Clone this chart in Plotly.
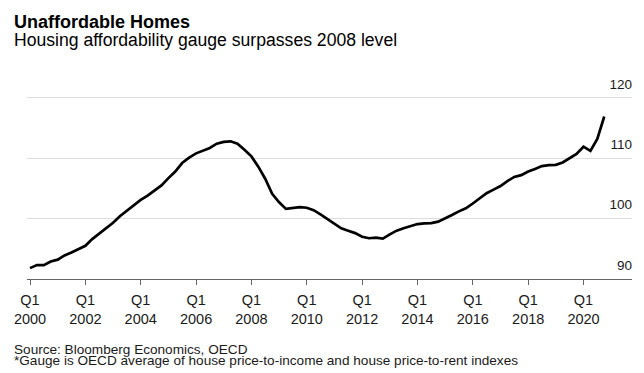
import plotly.graph_objects as go
import pandas as pd

# ---- data ----
quarters = pd.period_range("2000Q1", "2020Q4", freq="Q")
gauge = [
    91.8, 92.3, 92.3, 92.9, 93.2, 93.9, 94.4, 95.0,
    95.5, 96.6, 97.5, 98.4, 99.3, 100.4, 101.3, 102.2,
    103.1, 103.8, 104.6, 105.5, 106.7, 107.8, 109.2, 110.1,
    110.8, 111.3, 111.7, 112.4, 112.7, 112.8, 112.4, 111.4,
    110.3, 108.6, 106.6, 104.1, 102.7, 101.6, 101.7, 101.9,
    101.8, 101.4, 100.7, 99.9, 99.1, 98.4, 98.0, 97.6,
    97.0, 96.75, 96.85, 96.7, 97.4, 98.0, 98.4, 98.75,
    99.1, 99.2, 99.25, 99.5, 100.0, 100.6, 101.2, 101.7,
    102.5, 103.4, 104.2, 104.8, 105.4, 106.2, 106.9, 107.2,
    107.8, 108.2, 108.7, 108.85, 108.9, 109.3, 110.0, 110.7,
    111.9, 111.2, 113.2, 116.9,
]
tick_years = list(range(2000, 2021, 2))
tick_labels = [f"Q1<br>{y}" for y in tick_years]
y_ticks = [90, 100, 110, 120]
y_labels = ["90", "100", "110", "120"]

title = "<b>Unaffordable Homes</b>"
subtitle = "Housing affordability gauge surpasses 2008 level"
source = "Source: Bloomberg Economics, OECD"
note = "*Gauge is OECD average of house price-to-income and house price-to-rent indexes"

# ---- layout geometry (pixels) ----
W, H = 644, 373
L, R, T, B = 27, 632, 64, 279
X0_PX, X20_PX = 30.0, 583.5          # pixel of Q1 2000 and Q1 2020
PX_PER_UNIT = 6.04                   # y pixels per index point

x_dates = quarters.start_time
t0 = pd.Timestamp("2000-01-01")
t20 = pd.Timestamp("2020-01-01")
px_per_day = (X20_PX - X0_PX) / (t20 - t0).days
x_lo = t0 - pd.Timedelta(days=(X0_PX - L) / px_per_day)
x_hi = t0 + pd.Timedelta(days=(R - X0_PX) / px_per_day)
y_lo = 90
y_hi = 90 + (B - T) / PX_PER_UNIT


def px_x(p):
    return (p - L) / (R - L)


def px_y(p):
    return (B - p) / (B - T)


FONT = "Liberation Sans, Arial, Helvetica, sans-serif"

fig = go.Figure()
fig.add_trace(go.Scatter(
    x=x_dates, y=gauge, mode="lines",
    line=dict(color="#000000", width=2.7),
    hoverinfo="skip", showlegend=False,
))

fig.update_layout(
    width=W, height=H, autosize=False,
    margin=dict(l=L, r=W - R, t=T, b=H - B, pad=0),
    paper_bgcolor="white", plot_bgcolor="white",
    font=dict(family=FONT, color="#1a1a1a"),
    showlegend=False,
    xaxis=dict(
        type="date", range=[x_lo, x_hi],
        tickmode="array",
        tickvals=[pd.Timestamp(f"{y}-01-01") for y in tick_years],
        ticktext=tick_labels,
        showgrid=False, zeroline=False,
        showline=True, linecolor="#666666", linewidth=1,
        ticks="outside", ticklen=5, tickwidth=1, tickcolor="#666666",
        ticklabelstandoff=3,
        tickfont=dict(size=14.5, color="#1a1a1a", family=FONT),
        fixedrange=True,
    ),
    yaxis=dict(
        range=[y_lo, y_hi], side="right",
        tickmode="array", tickvals=y_ticks, ticktext=y_labels,
        ticklabelposition="inside", ticklabelshift=-14,
        ticklabelstandoff=-3,
        showgrid=True, gridcolor="#dddddd", gridwidth=1,
        zeroline=False, showline=False, ticks="",
        tickfont=dict(size=13.5, color="#1a1a1a", family=FONT),
        fixedrange=True,
    ),
    annotations=[
        dict(text=title, xref="paper", yref="paper", x=px_x(12), y=px_y(21.8),
             xanchor="left", yanchor="middle", showarrow=False,
             font=dict(size=18, color="#000000", family=FONT)),
        dict(text=subtitle, xref="paper", yref="paper", x=px_x(12), y=px_y(39.5),
             xanchor="left", yanchor="middle", showarrow=False,
             font=dict(size=17.6, color="#000000", family=FONT)),
        dict(text=source, xref="paper", yref="paper", x=px_x(12), y=px_y(349.3),
             xanchor="left", yanchor="middle", showarrow=False,
             font=dict(size=13.6, color="#1a1a1a", family=FONT)),
        dict(text=note, xref="paper", yref="paper", x=px_x(12), y=px_y(360),
             xanchor="left", yanchor="middle", showarrow=False,
             font=dict(size=13.6, color="#1a1a1a", family=FONT)),
    ],
)

fig.write_html(
    "out.html",
    config={"displayModeBar": False},
    post_script="document.body.style.margin='0px';document.body.style.overflow='hidden';",
)
